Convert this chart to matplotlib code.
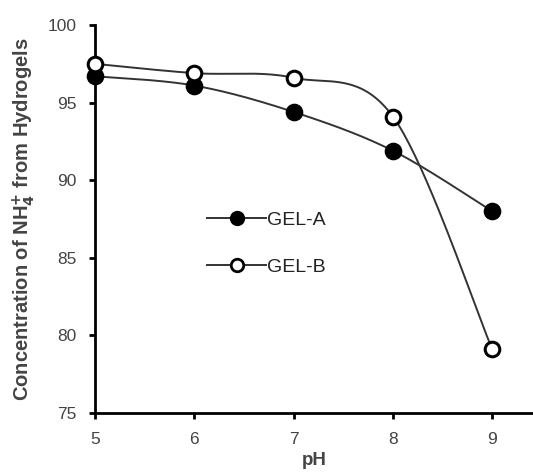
import numpy as np
import matplotlib
matplotlib.use('Agg')
import matplotlib.pyplot as plt

ph = [5, 6, 7, 8, 9]
gel_a = [96.7, 96.1, 94.4, 91.9, 88.0]
gel_b = [97.5, 96.9, 96.6, 94.1, 79.1]
labels = ['GEL-A', 'GEL-B']

plt.rcParams['font.family'] = ['Liberation Sans', 'DejaVu Sans']


def smooth(x, y, n=40):
    # Excel-like smoothed line: Catmull-Rom Bezier through the points
    x = np.asarray(x, float)
    y = np.asarray(y, float)
    px = np.concatenate([[x[0]], x, [x[-1]]])
    py = np.concatenate([[y[0]], y, [y[-1]]])
    xs, ys = [], []
    t = np.linspace(0, 1, n)
    for i in range(1, len(px) - 2):
        p0 = np.array([px[i], py[i]])
        p3 = np.array([px[i + 1], py[i + 1]])
        p1 = p0 + (np.array([px[i + 1], py[i + 1]]) - np.array([px[i - 1], py[i - 1]])) / 6
        p2 = p3 - (np.array([px[i + 2], py[i + 2]]) - np.array([px[i], py[i]])) / 6
        b = ((1 - t) ** 3)[:, None] * p0 + (3 * (1 - t) ** 2 * t)[:, None] * p1 \
            + (3 * (1 - t) * t ** 2)[:, None] * p2 + (t ** 3)[:, None] * p3
        xs.extend(b[:, 0])
        ys.extend(b[:, 1])
    return xs, ys


fig = plt.figure(figsize=(5.33, 4.72), dpi=100)
ax = fig.add_axes([0.178, 0.125, 0.822, 0.822])

line_color = '#333333'
for vals, lab, face in [(gel_a, labels[0], 'black'), (gel_b, labels[1], 'white')]:
    sx, sy = smooth(ph, vals)
    ax.plot(sx, sy, color=line_color, lw=1.4, zorder=2)
    ax.plot(ph, vals, ls='none', marker='o', ms=10.5, mfc=face, mec='black',
            mew=2.2, zorder=3, clip_on=False)
    ax.plot([], [], color=line_color, lw=1.4, marker='o', ms=9, mfc=face,
            mec='black', mew=2, label=lab)

ax.set_xlim(5, 9.41)
ax.set_ylim(75, 100)
ax.set_xticks(ph)
ax.set_yticks([75, 80, 85, 90, 95, 100])

for s in ['top', 'right']:
    ax.spines[s].set_visible(False)
for s in ['left', 'bottom']:
    ax.spines[s].set_linewidth(2)
ax.tick_params(direction='out', length=4, width=2, labelsize=12.5,
               labelcolor='#444444')
ax.tick_params(axis='x', pad=10)
ax.tick_params(axis='y', pad=9)

ax.set_xlabel('pH', fontsize=13.5, fontweight='bold', color='#444444', labelpad=3)
ax.set_ylabel('Concentration of NH$_\\mathbf{4}^\\mathbf{+}$ from Hydrogels',
              fontsize=14.5, fontweight='bold', color='#444444', labelpad=8)

ax.legend(loc='upper left', bbox_to_anchor=(0.217, 0.566), frameon=False,
          handlelength=3.0, labelspacing=1.55, fontsize=14, handletextpad=0.05,
          labelcolor='#222222')

plt.savefig('out.png', dpi=100)
